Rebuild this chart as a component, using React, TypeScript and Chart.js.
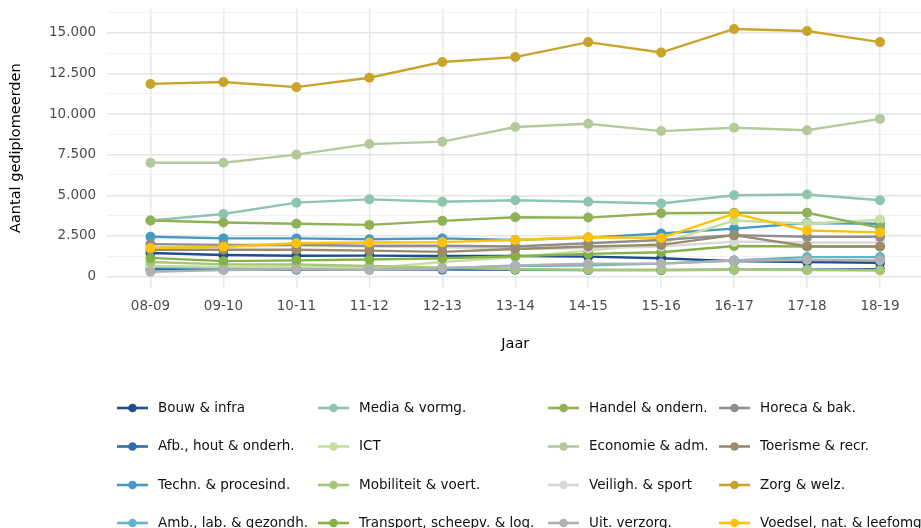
import React, { useEffect, useRef } from "react";
import { Chart, registerables } from "chart.js";

Chart.register(...registerables);

const categories = ["08-09", "09-10", "10-11", "11-12", "12-13", "13-14", "14-15", "15-16", "16-17", "17-18", "18-19"];

const seriesNames = [
  "Bouw & infra",
  "Afb., hout & onderh.",
  "Techn. & procesind.",
  "Amb., lab. & gezondh.",
  "Media & vormg.",
  "ICT",
  "Mobiliteit & voert.",
  "Transport, scheepv. & log.",
  "Handel & ondern.",
  "Economie & adm.",
  "Veiligh. & sport",
  "Uit. verzorg.",
  "Horeca & bak.",
  "Toerisme & recr.",
  "Zorg & welz.",
  "Voedsel, nat. & leefomg.",
];

const seriesColors = [
  "#1f4e8c",
  "#2e6ea6",
  "#4699c5",
  "#63b5c8",
  "#8ec5ae",
  "#c7de9f",
  "#a8c67b",
  "#84b246",
  "#8fb158",
  "#b6c99d",
  "#d8d8d8",
  "#b1b1b1",
  "#8e8e8e",
  "#9a8b6a",
  "#c9a42a",
  "#ffc20c",
];

const bouw = [1450, 1330, 1280, 1290, 1270, 1270, 1230, 1130, 950, 900, 850];
const afb = [450, 420, 420, 430, 430, 420, 400, 400, 420, 420, 450];
const techn = [2450, 2350, 2350, 2300, 2350, 2250, 2400, 2650, 2950, 3300, 3250];
const amb = [600, 560, 560, 520, 520, 650, 700, 800, 1000, 1200, 1200];
const media = [3450, 3850, 4550, 4750, 4600, 4700, 4600, 4500, 5000, 5050, 4700];
const ict = [650, 600, 620, 500, 900, 1200, 1600, 2050, 3450, 3250, 3500];
const mobiliteit = [900, 750, 750, 650, 550, 450, 420, 420, 420, 400, 380];
const transport = [1150, 950, 1000, 1050, 1130, 1250, 1400, 1500, 1880, 1850, 1850];
const handel = [3450, 3330, 3250, 3180, 3430, 3650, 3630, 3900, 3930, 3930, 3000];
const economie = [7000, 7000, 7500, 8150, 8300, 9200, 9400, 8950, 9150, 9000, 9700];
const veiligh = [1800, 1850, 1900, 1850, 1800, 1700, 1750, 1850, 2150, 2100, 2100];
const uitverzorg = [300, 400, 450, 420, 500, 680, 800, 800, 980, 1020, 1000];
const horeca = [2000, 1950, 1950, 1900, 1900, 1850, 2050, 2250, 2550, 2450, 2450];
const toerisme = [1650, 1650, 1650, 1600, 1520, 1700, 1850, 1950, 2550, 1870, 1850];
const zorg = [11850, 11970, 11650, 12230, 13200, 13500, 14420, 13780, 15230, 15100, 14420];
const voedsel = [1760, 1840, 2050, 2100, 2120, 2250, 2420, 2380, 3870, 2840, 2720];

const seriesValues = [bouw, afb, techn, amb, media, ict, mobiliteit, transport, handel, economie, veiligh, uitverzorg, horeca, toerisme, zorg, voedsel];

const yMajorTicks = [0, 2500, 5000, 7500, 10000, 12500, 15000];
const yMajorLabels = ["0", "2.500", "5.000", "7.500", "10.000", "12.500", "15.000"];
const yMinorTicks = [1250, 3750, 6250, 8750, 11250, 13750, 16250];

const FONT = '"DejaVu Sans", Verdana, sans-serif';

const legendColX = [117, 318, 548, 719];
const legendRowY = [408, 446.5, 485, 523];

const legendPlugin = {
  id: "gridLegend",
  afterDraw(chart: any) {
    const ctx = chart.ctx;
    ctx.save();
    ctx.font = `13.5px ${FONT}`;
    ctx.textBaseline = "middle";
    ctx.textAlign = "left";
    seriesNames.forEach((name, i) => {
      const col = Math.floor(i / 4);
      const row = i % 4;
      const x0 = legendColX[col];
      const y = legendRowY[row];
      ctx.strokeStyle = seriesColors[i];
      ctx.lineWidth = 2.6;
      ctx.beginPath();
      ctx.moveTo(x0, y);
      ctx.lineTo(x0 + 31, y);
      ctx.stroke();
      ctx.fillStyle = seriesColors[i];
      ctx.beginPath();
      ctx.arc(x0 + 15.5, y, 4.3, 0, Math.PI * 2);
      ctx.fill();
      ctx.fillStyle = "#111111";
      ctx.fillText(name, x0 + 41, y);
    });
    ctx.restore();
  },
};

export default function App() {
  const canvasRef = useRef<HTMLCanvasElement | null>(null);

  useEffect(() => {
    if (!canvasRef.current) return;
    const lineSets = seriesValues.map((vals, i) => ({
      label: seriesNames[i],
      data: vals.map((v, j) => ({ x: j, y: v })),
      borderColor: seriesColors[i],
      backgroundColor: seriesColors[i],
      borderWidth: 2.4,
      pointRadius: 0,
      tension: 0,
      order: 100 - i,
    }));
    const pointSets = seriesValues.map((vals, i) => ({
      label: seriesNames[i] + " punten",
      data: vals.map((v, j) => ({ x: j, y: v })),
      showLine: false,
      pointRadius: 5,
      pointBackgroundColor: seriesColors[i],
      pointBorderWidth: 0,
      borderColor: seriesColors[i],
      order: 50 - i,
    }));

    const chart = new Chart(canvasRef.current, {
      type: "line",
      data: { datasets: [...lineSets, ...pointSets] as any },
      plugins: [legendPlugin],
      options: {
        responsive: false,
        animation: false,
        devicePixelRatio: 1,
        layout: { padding: { top: 8.3, left: 0, right: 6.2, bottom: 175.3 } },
        plugins: { legend: { display: false }, tooltip: { enabled: false } },
        scales: {
          x: {
            type: "linear",
            min: -0.6,
            max: 10.6,
            afterBuildTicks: (s: any) => {
              s.ticks = categories.map((_, i) => ({ value: i }));
            },
            afterFit: (s: any) => {
              s.height = 64.7;
              s.paddingLeft = 0;
              s.paddingRight = 0;
            },
            ticks: {
              callback: (v: any) => categories[v] ?? "",
              font: { family: FONT, size: 13.5 },
              color: "#4d4d4d",
              padding: 10.5,
              maxRotation: 0,
              autoSkip: false,
            },
            grid: { color: "#e9e9e9", lineWidth: 1.5, drawTicks: false },
            border: { display: false },
            title: {
              display: true,
              text: "Jaar",
              font: { family: FONT, size: 14.5 },
              color: "#000000",
              padding: { top: 0, bottom: 0 },
            },
          },
          y: {
            type: "linear",
            min: -700,
            max: 16500,
            afterBuildTicks: (s: any) => {
              s.ticks = [...yMajorTicks, ...yMinorTicks].sort((a, b) => a - b).map((v) => ({ value: v }));
            },
            afterFit: (s: any) => {
              s.width = 106.7;
              s.paddingTop = 0;
              s.paddingBottom = 0;
            },
            ticks: {
              callback: (v: any) => {
                const k = yMajorTicks.indexOf(v);
                return k >= 0 ? yMajorLabels[k] : "";
              },
              font: { family: FONT, size: 13.5 },
              color: "#4d4d4d",
              padding: 10.5,
              autoSkip: false,
            },
            grid: {
              color: (c: any) => (yMajorTicks.includes(c.tick?.value) ? "#e6e6e6" : "#f0f0f0"),
              lineWidth: (c: any) => (yMajorTicks.includes(c.tick?.value) ? 1.5 : 0.9),
              drawTicks: false,
            },
            border: { display: false },
            title: {
              display: true,
              text: "Aantal gediplomeerden",
              font: { family: FONT, size: 14.5 },
              color: "#000000",
              padding: { top: 8, bottom: 0 },
            },
          },
        },
      } as any,
    });
    return () => chart.destroy();
  }, []);

  return (
    <div
      style={{
        position: "fixed",
        left: 0,
        top: 0,
        width: 921,
        height: 528,
        overflow: "hidden",
        background: "#ffffff",
      }}
    >
      <canvas ref={canvasRef} width={930} height={528} style={{ display: "block", width: 930, height: 528 }} />
    </div>
  );
}
